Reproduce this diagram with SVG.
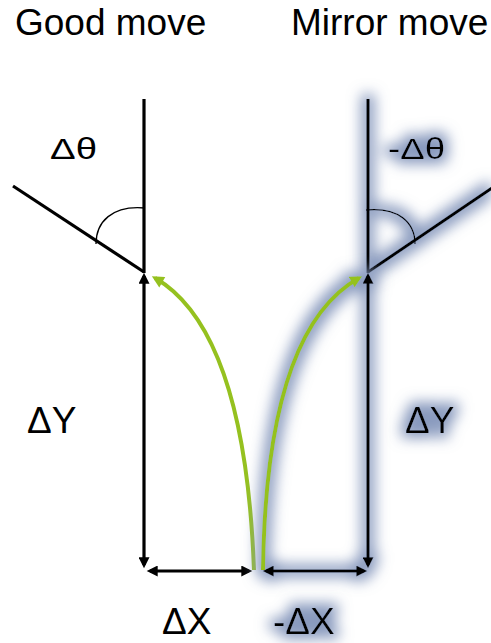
<svg xmlns="http://www.w3.org/2000/svg" width="491" height="643" viewBox="0 0 491 643">
<defs>
<style>
text{font-family:"Liberation Sans",Arial,sans-serif;fill:#000}
.big{font-size:37px}
.th{font-size:29px}
.ln{stroke:#000;stroke-width:3.2;fill:none}
.arc{stroke:#000;stroke-width:1.3;fill:none}
.ar{stroke:#000;stroke-width:3.2;fill:none;marker-start:url(#ah);marker-end:url(#ah)}
.gr{stroke:#95c11f;stroke-width:4;fill:none;marker-end:url(#gh)}
.glow{filter:url(#glow)}
</style>
<marker id="ah" viewBox="0 0 10 10" refX="7" refY="5" markerWidth="12" markerHeight="11" markerUnits="userSpaceOnUse" orient="auto-start-reverse"><path d="M0,0 L10,5 L0,10 z" fill="#000"/></marker>
<marker id="gh" viewBox="0 0 10 10" refX="7" refY="5" markerWidth="13" markerHeight="12" markerUnits="userSpaceOnUse" orient="auto"><path d="M0,0 L10,5 L0,10 z" fill="#95c11f"/></marker>
<filter id="glow" filterUnits="userSpaceOnUse" x="0" y="0" width="491" height="643">
<feMorphology in="SourceAlpha" operator="dilate" radius="5" result="d"/>
<feGaussianBlur in="d" stdDeviation="7" result="b"/>
<feFlood flood-color="#8294ba" flood-opacity="0.95"/>
<feComposite in2="b" operator="in" result="g"/>
<feMerge><feMergeNode in="g"/><feMergeNode in="SourceGraphic"/></feMerge>
</filter>
</defs>

<g id="title-good"><text class="big" x="15" y="35">Good move</text></g>
<g id="title-mirror"><text class="big" x="291" y="35">Mirror move</text></g>

<g id="good-pose">
<line class="ln" x1="144" y1="99" x2="144" y2="273"/>
<line class="ln" x1="13" y1="186" x2="144" y2="272"/>
<path class="arc" d="M96,244 C96,222 112,205 145,208"/>
<text class="th" x="50" y="159" textLength="47" lengthAdjust="spacingAndGlyphs">Δθ</text>
</g>

<g id="mirror-pose" class="glow">
<line class="ln" x1="368" y1="99" x2="368" y2="273"/>
<line class="ln" x1="368" y1="272" x2="492" y2="188"/>
<path class="arc" d="M366,210 C398,207 415,222 415,244"/>
<text class="th" x="388" y="159" textLength="57" lengthAdjust="spacingAndGlyphs">-Δθ</text>
</g>

<g id="label-dy-left"><text class="big" x="27" y="433">ΔY</text></g>
<g id="label-dy-right" class="glow"><text class="big" x="405" y="433">ΔY</text></g>
<g id="label-dx-left"><text class="big" x="162" y="634">ΔX</text></g>
<g id="label-dx-right" class="glow"><text class="big" x="273" y="634">-ΔX</text></g>

<g id="connectors">
<g id="good-connectors">
<path class="ar" d="M144,276 L144,565"/>
<path class="ar" d="M150,571 L249,571"/>
<path class="gr" d="M254,570 Q245,330 155,278"/>
</g>
<g id="mirror-connectors" class="glow">
<path class="ar" d="M368,276 L368,565"/>
<path class="ar" d="M266,571 L364,571"/>
<path class="gr" d="M263,570 Q266,330 359,278"/>
</g>
</g>
</svg>
